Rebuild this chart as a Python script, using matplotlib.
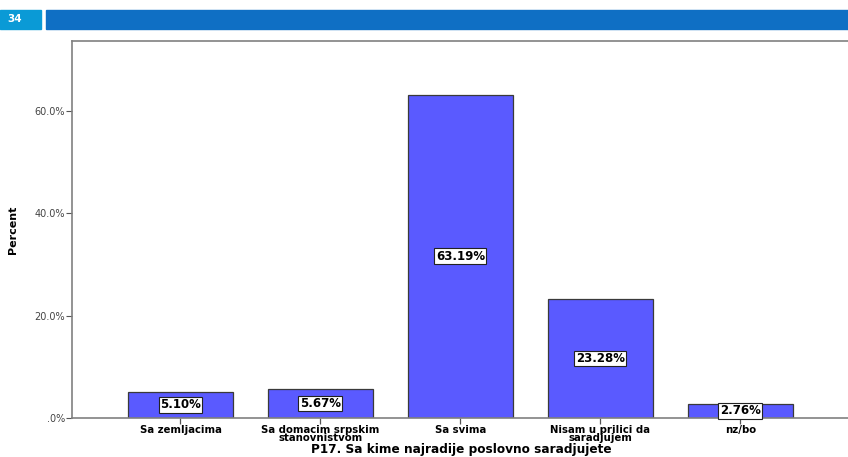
import numpy as np
import matplotlib
matplotlib.use("Agg")
import matplotlib.pyplot as plt
from matplotlib.patches import Rectangle

# answers to P17 and their shares (percent)
categories = ["Sa zemljacima", "Sa domacim srpskim\nstanovnistvom", "Sa svima",
              "Nisam u prilici da\nsaradjujem", "nz/bo"]
percents = [5.10, 5.67, 63.19, 23.28, 2.76]
y_ticks = [0, 20, 40, 60]
y_tick_labels = [".0%", "20.0%", "40.0%", "60.0%"]
page_number = "34"

fig = plt.figure(figsize=(8.48, 4.57), dpi=100)

# slide header: small cyan box with page number and a long blue bar
fig.patches.append(Rectangle((0, 1 - 29 / 457), 41 / 848, 19 / 457,
                             transform=fig.transFigure, color="#0a9ad6"))
fig.patches.append(Rectangle((46 / 848, 1 - 29 / 457), 1 - 46 / 848, 19 / 457,
                             transform=fig.transFigure, color="#0f6fc4"))
fig.text(15 / 848, 1 - 19 / 457, page_number, color="white", fontsize=7.5,
         fontweight="bold", ha="center", va="center")

ax = fig.add_axes([72 / 848, 1 - 418 / 457, 1 - 72 / 848, (418 - 41) / 457])
x = np.arange(len(categories))
ax.bar(x, percents, width=0.75, color="#5a5aff", edgecolor="#3a3a3a", linewidth=0.9)

for xi, v in zip(x, percents):
    ax.text(xi, v / 2, f"{v:.2f}%", ha="center", va="center", fontsize=8.5,
            fontweight="bold",
            bbox=dict(boxstyle="square,pad=0.12", fc="white", ec="#222222", lw=0.8))

ax.set_xlim(-0.775, 4.77)
ax.set_ylim(0, 73.7)
ax.set_yticks(y_ticks)
ax.set_yticklabels(y_tick_labels, fontsize=7, color="#444444")
ax.set_xticks(x)
ax.set_xticklabels(categories, fontsize=7.3, fontweight="bold", linespacing=0.8)
ax.tick_params(axis="y", length=4, width=0.8, color="#555555", pad=1)
ax.tick_params(axis="x", length=4, width=0.9, color="#555555", pad=1, direction="out")
for s in ["left", "top", "bottom"]:
    ax.spines[s].set_color("#808080")
    ax.spines[s].set_linewidth(1.2)
ax.spines["right"].set_visible(False)

ax.set_ylabel("Percent", fontsize=8, fontweight="bold")
ax.yaxis.set_label_coords(-54 / 776, 0.5)
fig.text(461 / 848, 1 - 449 / 457, "P17. Sa kime najradije poslovno saradjujete",
         ha="center", va="center", fontsize=8.7, fontweight="bold")

fig.savefig("out.png", dpi=100)
